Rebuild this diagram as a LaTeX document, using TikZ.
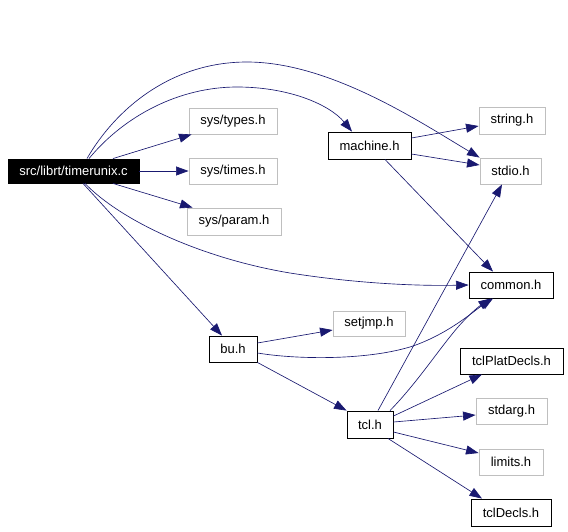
\documentclass[tikz,border=0pt]{standalone}
\usepackage{fontspec}
\setmainfont{Liberation Sans}
\usetikzlibrary{arrows.meta}
\definecolor{edgeblue}{HTML}{191970}
\definecolor{lightframe}{HTML}{BFBFBF}
\tikzset{
  box/.style={draw=black, line width=0.9pt, inner sep=0pt, font=\fontsize{13}{15}\selectfont, text=black},
  greybox/.style={box, draw=lightframe},
  rootbox/.style={box, fill=black, text=white},
  dep/.style={draw=edgeblue, line width=0.65pt, arrows={-{Triangle[length=12.5pt,width=9pt,fill=edgeblue]}}}
}
\begin{document}
\begin{tikzpicture}[x=1pt,y=-1pt]
\useasboundingbox (0,0) rectangle (568,531);
% nodes
\node[rootbox, minimum width=131pt, minimum height=24pt] (root) at (73.5,171) {src/librt/timerunix.c};
\node[greybox, minimum width=88pt, minimum height=26pt] (types) at (233,121) {sys/types.h};
\node[greybox, minimum width=88pt, minimum height=26pt] (times) at (233,171) {sys/times.h};
\node[greybox, minimum width=94pt, minimum height=27pt] (param) at (234,221.5) {sys/param.h};
\node[box, minimum width=83pt, minimum height=27pt] (machine) at (369.5,145.5) {machine.h};
\node[greybox, minimum width=66pt, minimum height=27pt] (string) at (512,120.5) {string.h};
\node[greybox, minimum width=61pt, minimum height=26pt] (stdio) at (510.5,171) {stdio.h};
\node[box, minimum width=84pt, minimum height=26pt] (common) at (511,285) {common.h};
\node[box, minimum width=48pt, minimum height=26pt] (bu) at (233,349) {bu.h};
\node[greybox, minimum width=72pt, minimum height=25pt] (setjmp) at (369,323.5) {setjmp.h};
\node[box, minimum width=103pt, minimum height=26pt] (platdecls) at (511.5,361) {tclPlatDecls.h};
\node[box, minimum width=46pt, minimum height=27pt] (tcl) at (370,424.5) {tcl.h};
\node[greybox, minimum width=71pt, minimum height=26pt] (stdarg) at (511.5,411) {stdarg.h};
\node[greybox, minimum width=64pt, minimum height=26pt] (limits) at (511,462) {limits.h};
\node[box, minimum width=80pt, minimum height=27pt] (decls) at (511,512.5) {tclDecls.h};
% connectors from root
\draw[dep] ([xshift=13.5pt]root.north) .. controls (115,110) and (170,62) .. (247,62)
  .. controls (330,62) and (420,122) .. (stdio.north west);
\draw[dep] ([xshift=15.5pt]root.north) .. controls (125,115) and (180,87) .. (237,87)
  .. controls (290,87) and (330,105) .. ([xshift=-17.5pt]machine.north);
\draw[dep] ([xshift=39.5pt]root.north) -- ([xshift=3pt]types.south west);
\draw[dep] (root.east) -- (times.west);
\draw[dep] ([xshift=39.5pt]root.south) -- ([xshift=6pt]param.north west);
\draw[dep] ([xshift=11.5pt]root.south) .. controls (120,220) and (200,258) .. (290,273)
  .. controls (360,284) and (420,286) .. (common.west);
\draw[dep] ([xshift=9.5pt]root.south) -- ([xshift=-11pt]bu.north);
% machine.h
\draw[dep] ([yshift=7.5pt]machine.east) -- ([yshift=-5.5pt]string.west);
\draw[dep] ([yshift=-8.5pt]machine.east) -- ([yshift=6pt]stdio.west);
\draw[dep] ([xshift=15.5pt]machine.south) -- ([xshift=-18pt]common.north);
% bu.h
\draw[dep] ([yshift=6pt]bu.east) -- ([yshift=-6.5pt]setjmp.west);
\draw[dep] ([yshift=-4pt]bu.east) .. controls (300,360) and (370,360) .. (413,346)
  .. controls (450,333) and (475,310) .. ([xshift=-18pt]common.south);
\draw[dep] (bu.south east) -- (tcl.north west);
% tcl.h
\draw[dep] ([xshift=8pt]tcl.north) -- ([xshift=-8.5pt]stdio.south);
\draw[dep] ([xshift=20pt]tcl.north) .. controls (415,385) and (435,355) .. (453,333)
  .. controls (465,318) and (478,307) .. ([xshift=-20pt]common.south);
\draw[dep] ([yshift=8.5pt]tcl.east) -- ([xshift=-29.5pt]platdecls.south);
\draw[dep] ([yshift=2.5pt]tcl.east) -- ([yshift=-4pt]stdarg.west);
\draw[dep] ([yshift=-7.5pt]tcl.east) -- ([yshift=9pt]limits.west);
\draw[dep] ([xshift=18pt]tcl.south) -- ([xshift=-29pt]decls.north);
\end{tikzpicture}
\end{document}
